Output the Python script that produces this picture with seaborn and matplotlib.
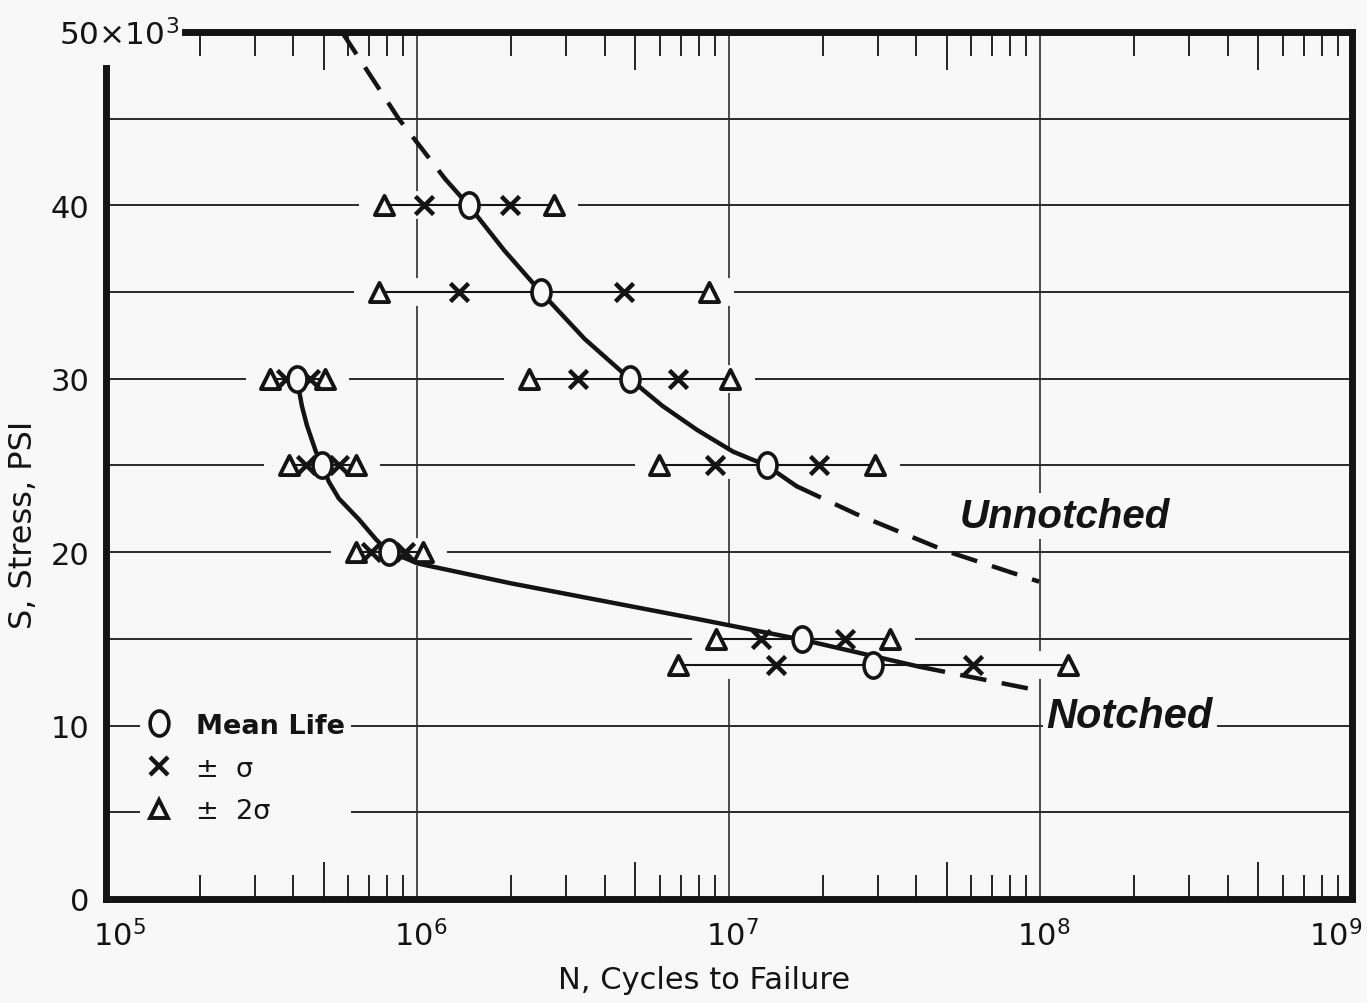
import numpy as np
import pandas as pd
import matplotlib
matplotlib.use("Agg")
import matplotlib.pyplot as plt
import seaborn as sns
from matplotlib.ticker import LogLocator, FixedLocator, NullLocator, NullFormatter
from matplotlib.lines import Line2D
from matplotlib.path import Path
from matplotlib.transforms import Affine2D, ScaledTranslation

# ---------------- data (stress in 10^3 psi, N in cycles) ----------------
un_stress = [40, 35, 30, 25]
un_minus2 = [7.8e5, 7.5e5, 2.28e6, 5.97e6]
un_minus1 = [1.05e6, 1.36e6, 3.27e6, 9.0e6]
un_mean = [1.46e6, 2.49e6, 4.8e6, 1.32e7]
un_plus1 = [1.98e6, 4.62e6, 6.88e6, 1.95e7]
un_plus2 = [2.74e6, 8.63e6, 1.01e7, 2.95e7]

no_stress = [30, 25, 20, 15, 13.5]
no_minus2 = [3.37e5, 3.87e5, 6.34e5, 9.1e6, 6.88e6]
no_minus1 = [3.79e5, 4.39e5, 7.08e5, 1.27e7, 1.42e7]
no_mean = [4.1e5, 4.93e5, 8.08e5, 1.72e7, 2.9e7]
no_plus1 = [4.52e5, 5.59e5, 9.09e5, 2.35e7, 6.07e7]
no_plus2 = [5.04e5, 6.34e5, 1.04e6, 3.29e7, 1.23e8]

# faired S-N curves
un_dash_hi_N = [5.72e5, 8.7e5, 1.23e6]
un_dash_hi_S = [50, 45, 41.5]
un_solid_N = [1.23e6, 1.46e6, 1.9e6, 2.49e6, 3.44e6, 4.8e6, 6.1e6, 7.9e6, 1.03e7, 1.32e7, 1.65e7]
un_solid_S = [41.5, 40, 37.4, 35, 32.3, 30, 28.45, 27.05, 25.8, 25, 23.8]
un_dash_lo_N = [1.65e7, 2.56e7, 4.97e7, 9.9e7]
un_dash_lo_S = [23.8, 22.2, 20.07, 18.3]

no_solid_N = [4.1e5, 4.26e5, 4.42e5, 4.72e5, 4.93e5, 5.2e5, 5.59e5, 6.48e5, 7.35e5, 8.08e5,
              9.3e5, 1.0e6, 2.0e6, 7.9e6, 1.72e7, 4.07e7]
no_solid_S = [30, 28.4, 27.3, 25.8, 25, 24.05, 23.1, 21.9, 20.75, 20.0,
              19.6, 19.35, 18.2, 16.15, 14.95, 13.4]
no_dash_N = [4.07e7, 1.0e8]
no_dash_S = [13.4, 12.0]

x_tick_vals = [1e5, 1e6, 1e7, 1e8, 1e9]
x_tick_labels = [r"$10^{5}$", r"$10^{6}$", r"$10^{7}$", r"$10^{8}$", r"$10^{9}$"]
y_tick_vals = [0, 10, 20, 30, 40, 50]
y_tick_labels = ["0", "10", "20", "30", "40", ""]
legend_labels = ["Mean Life", "\u00b1  \u03c3", "\u00b1  2\u03c3"]

# ---------------- build tables ----------------
rows = []
for grp, S_list, cols in [("un", un_stress, [un_minus2, un_minus1, un_mean, un_plus1, un_plus2]),
                          ("no", no_stress, [no_minus2, no_minus1, no_mean, no_plus1, no_plus2])]:
    kinds = ["2s", "1s", "mean", "1s", "2s"]
    for i, S in enumerate(S_list):
        for k, col in zip(kinds, cols):
            rows.append(dict(group=grp, row=f"{grp}{i}", S=S, N=col[i], kind=k))
pts = pd.DataFrame(rows)

def curve_df(N, S):
    return pd.DataFrame({"N": N, "S": S})

# ---------------- style ----------------
sns.set_theme(style="white")
plt.rcParams["font.family"] = ["DejaVu Sans"]
plt.rcParams["mathtext.fontset"] = "dejavusans"
bg = "#f8f8f8"
ink = "#141414"

fig = plt.figure(figsize=(13.67, 10.04), dpi=100, facecolor=bg)
ax = fig.add_axes([0.0775, 0.1036, 0.9115, 0.8636])
ax.set_facecolor(bg)
ax.set_xscale("log")
ax.set_xlim(1e5, 1e9)
ax.set_ylim(0, 50)
ax.set_axisbelow(True)

# grid
ax.yaxis.set_major_locator(FixedLocator(y_tick_vals))
ax.yaxis.set_minor_locator(FixedLocator([5, 15, 25, 35, 45]))
ax.set_yticklabels(y_tick_labels)
ax.xaxis.set_major_locator(FixedLocator(x_tick_vals))
ax.set_xticklabels(x_tick_labels)
ax.xaxis.set_minor_locator(LogLocator(base=10, subs=[2, 3, 4, 6, 7, 8, 9], numticks=20))
ax.xaxis.set_minor_formatter(NullFormatter())
ax.grid(True, axis="y", which="both", color="#2a2a2a", lw=1.4)
ax.grid(True, axis="x", which="major", color="#2f2f2f", lw=1.2)
# no grid lines on the frame edges
xt = ax.xaxis.get_major_ticks()
xt[0].gridline.set_visible(False)
xt[-1].gridline.set_visible(False)
yt = ax.yaxis.get_major_ticks()
yt[0].gridline.set_visible(False)
yt[-1].gridline.set_visible(False)

# white gaps in grid around each data row (drafting style)
for r, g in pts.groupby("row"):
    lo, hi = g["N"].min(), g["N"].max()
    ax.plot([lo / 1.2, hi * 1.2], [g["S"].iloc[0]] * 2, color=bg, lw=20,
            solid_capstyle="butt", zorder=1)

# connecting lines between +-2 sigma
sns.lineplot(data=pts, x="N", y="S", units="row", estimator=None, color=ink, lw=1.5,
             ax=ax, zorder=2, legend=False)

# curves
solid_kw = dict(color=ink, lw=3.2, sort=False, estimator=None, ax=ax, legend=False, zorder=3)
sns.lineplot(data=curve_df(un_solid_N, un_solid_S), x="N", y="S", **solid_kw)
sns.lineplot(data=curve_df(no_solid_N, no_solid_S), x="N", y="S", **solid_kw)
for N, S in [(un_dash_hi_N, un_dash_hi_S), (un_dash_lo_N, un_dash_lo_S), (no_dash_N, no_dash_S)]:
    ln = ax.plot(N, S, color=ink, lw=3.2, zorder=3)[0]
    ln.set_dashes((6, 3.5))

# markers
ell = Path.unit_circle().transformed(Affine2D().scale(0.75, 1.0))
sns.scatterplot(data=pts[pts.kind == "2s"], x="N", y="S", marker="^", s=190,
                facecolor=bg, edgecolor=ink, linewidth=2.8, ax=ax, zorder=4, legend=False)
sns.scatterplot(data=pts[pts.kind == "1s"], x="N", y="S", marker="x", s=170,
                color=ink, linewidth=3.2, ax=ax, zorder=4, legend=False)
sns.scatterplot(data=pts[pts.kind == "mean"], x="N", y="S", marker=ell, s=330,
                facecolor=bg, edgecolor=ink, linewidth=2.6, ax=ax, zorder=5, legend=False)

# ticks
ax.tick_params(axis="y", which="both", length=0, labelsize=22, pad=12, colors=ink)
ax.tick_params(axis="x", which="major", length=0, labelsize=22, pad=14, colors=ink)
ax.tick_params(axis="x", which="minor", direction="in", length=17, width=1.3,
               top=True, bottom=True, color=ink)
xl = ax.get_xticklabels()
xl[0].set_transform(xl[0].get_transform() + ScaledTranslation(13 / 100, 0, fig.dpi_scale_trans))
xl[-1].set_transform(xl[-1].get_transform() + ScaledTranslation(-16 / 100, 0, fig.dpi_scale_trans))
for sl in xl[1:-1]:
    sl.set_transform(sl.get_transform() + ScaledTranslation(3 / 100, 0, fig.dpi_scale_trans))
for loc in ["top", "bottom"]:
    sec = ax.secondary_xaxis(loc)
    sec.xaxis.set_major_locator(FixedLocator([5e5, 5e6, 5e7, 5e8]))
    sec.xaxis.set_minor_locator(NullLocator())
    sec.tick_params(direction="in", length=27, width=1.3, color=ink,
                    labeltop=False, labelbottom=False)
    for sp in sec.spines.values():
        sp.set_visible(False)

# spines
for sp in ax.spines.values():
    sp.set_visible(True)
    sp.set_linewidth(5)
    sp.set_color(ink)
    sp.set_zorder(6)
ax.spines["left"].set_bounds(0, 47.9)
ax.spines["top"].set_bounds(1.79e5, 1e9)

ax.text(0.059, 0.997, r"50$\times$10$^{3}$", transform=ax.transAxes, ha="right",
        va="center", fontsize=22.5, color=ink)

# axis labels
ax.set_xlabel("N, Cycles to Failure", fontsize=22, color=ink)
ax.xaxis.set_label_coords(0.48, -0.076)
ax.set_ylabel("S, Stress, PSI", fontsize=23, color=ink)
ax.yaxis.set_label_coords(-0.054, 0.433)

# curve labels
lab_kw = dict(transform=ax.transAxes, fontweight="bold", fontstyle="italic",
              family=["Liberation Sans", "DejaVu Sans"], color=ink, va="center", ha="left",
              zorder=7, bbox=dict(facecolor=bg, edgecolor="none", pad=3))
ax.text(0.685, 0.442, "Unnotched", fontsize=29, **lab_kw)
ax.text(0.755, 0.211, "Notched", fontsize=30, **lab_kw)

# legend
handles = [
    Line2D([], [], marker=ell, ls="none", mfc=bg, mec=ink, mew=2.6, ms=18),
    Line2D([], [], marker="x", ls="none", color=ink, mew=3.2, ms=13),
    Line2D([], [], marker="^", ls="none", mfc=bg, mec=ink, mew=2.8, ms=13),
]
leg = ax.legend(handles, legend_labels, loc="upper left", bbox_to_anchor=(0.027, 0.221),
                fontsize=19.5, frameon=True, facecolor=bg, edgecolor="none", framealpha=1,
                handlelength=1.0, handletextpad=0.9, labelspacing=0.62, borderpad=0.2,
                borderaxespad=0)
leg.set_zorder(7)
for i, t in enumerate(leg.get_texts()):
    t.set_color(ink)
    if i == 0:
        t.set_fontweight("bold")

fig.savefig("out.png", dpi=100, facecolor=bg)
